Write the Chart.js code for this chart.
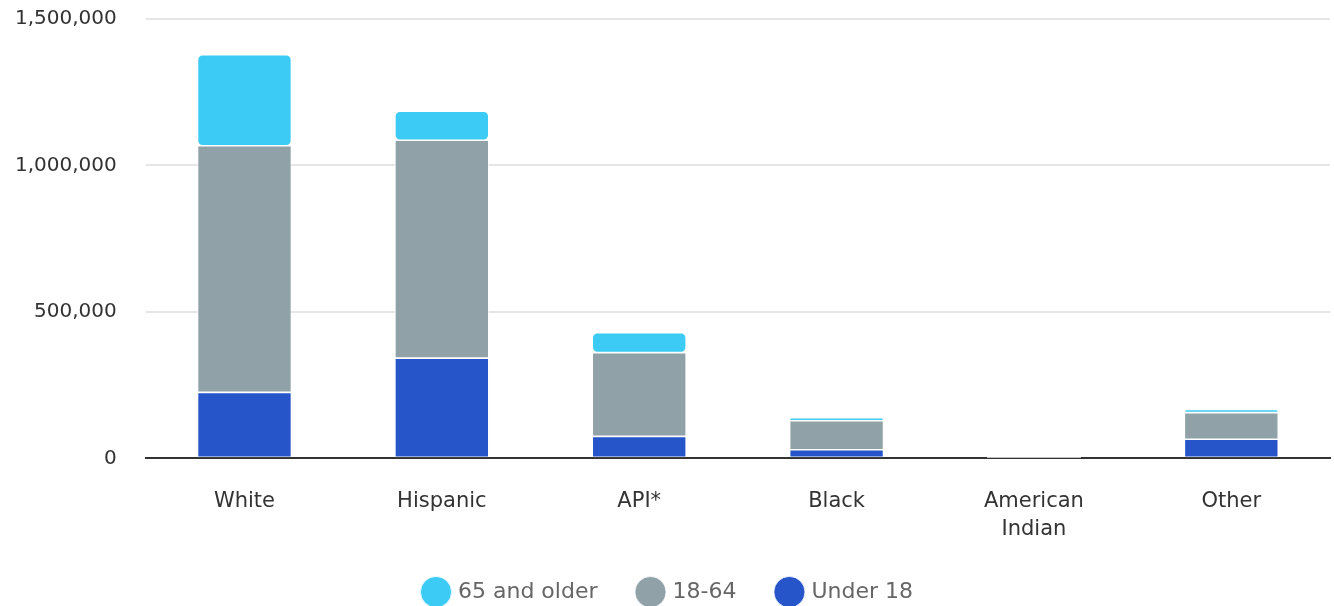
<!DOCTYPE html>
<html>
<head>
<meta charset="utf-8">
<script src="https://cdn.jsdelivr.net/npm/chart.js@4"></script>
<style>
  html, body { margin: 0; padding: 0; background: #fff; }
  #wrap { width: 1334px; height: 606px; position: relative; }
</style>
</head>
<body>
<div id="wrap"><canvas id="age-chart"></canvas></div>
<script>
// Befolkning efter gruppe og alder
var groups = ["White", "Hispanic", "API*", "Black", ["American", "Indian"], "Other"];
var under18 = [225000, 342000, 75000, 29000, 1000, 65000];
var age18to64 = [842000, 744000, 286000, 99000, 2000, 91000];
var over65 = [311000, 99000, 68000, 11000, 300, 11000];
var yTicks = [0, 500000, 1000000, 1500000];

var fontFamily = "'DejaVu Sans', sans-serif";

var data = {
    labels: groups,
    datasets: [{
        label: "Under 18",
        data: under18,
        backgroundColor: "#2655c9"
    }, {
        label: "18-64",
        data: age18to64,
        backgroundColor: "#90a1a8"
    }, {
        label: "65 and older",
        data: over65,
        backgroundColor: "#3ccbf4"
    }]
};

// Fælles udseende for alle søjler
data.datasets.forEach(function (ds) {
    ds.borderColor = "#ffffff";
    ds.borderWidth = 0.8;
    ds.borderSkipped = false;
    ds.borderRadius = 5;
    ds.barPercentage = 0.476;
    ds.categoryPercentage = 1;
});

var options = {
    responsive: true,
    maintainAspectRatio: false,
    animation: false,
    layout: { padding: { top: 0, right: 4, left: 8, bottom: -7 } },
    plugins: {
        tooltip: { enabled: false },
        legend: {
            position: "bottom",
            reverse: true,
            labels: {
                usePointStyle: true,
                pointStyle: "circle",
                boxWidth: 22,
                boxHeight: 22,
                padding: 42,
                color: "#666",
                font: { family: fontFamily, size: 22 }
            }
        }
    },
    scales: {
        x: {
            stacked: true,
            grid: { display: false },
            border: { display: true, color: "#333", width: 2 },
            afterFit: function (scale) {
                // mindre luft mellem aksetekst og forklaring
                scale.height -= 26;
            },
            ticks: {
                color: "#333",
                padding: 21,
                font: { family: fontFamily, size: 21, lineHeight: 1.35 }
            }
        },
        y: {
            stacked: true,
            min: 0,
            max: 1500000,
            afterBuildTicks: function (axis) {
                axis.ticks = yTicks.map(function (v) { return { value: v }; });
            },
            border: { display: false },
            grid: {
                color: "#e6e6e6",
                lineWidth: 2,
                drawTicks: true,
                tickLength: 22,
                tickColor: "transparent"
            },
            ticks: {
                color: "#333",
                padding: 7,
                font: { family: fontFamily, size: 20 },
                callback: function (v) { return v.toLocaleString("en-US"); }
            }
        }
    }
};

var ctx = document.getElementById("age-chart").getContext("2d");
var ageChart = new Chart(ctx, {
    type: "bar",
    data: data,
    options: options
});
</script>
</body>
</html>
